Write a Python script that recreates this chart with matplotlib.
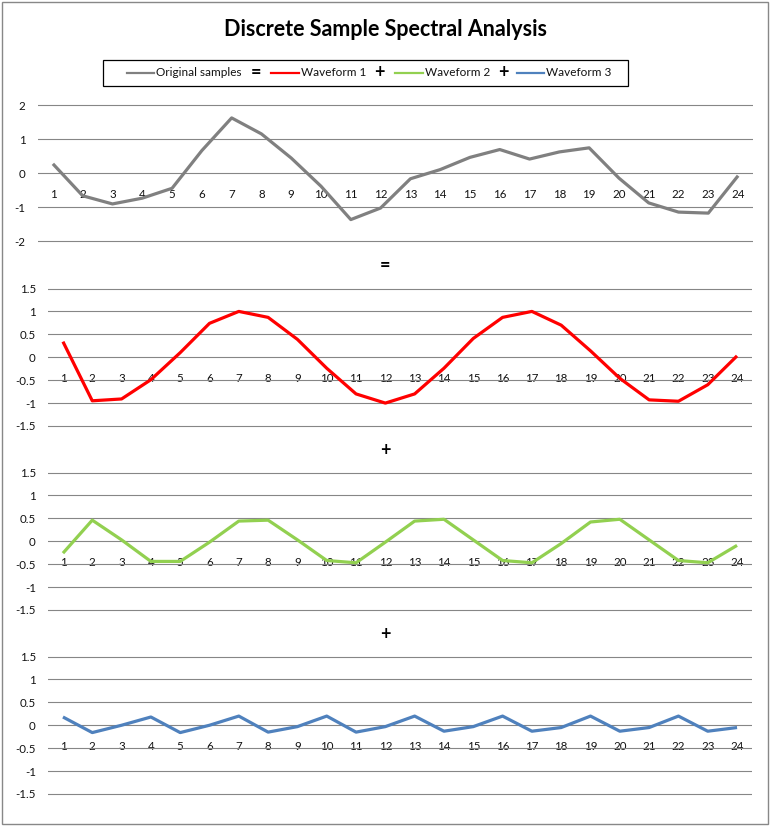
import numpy as np
import matplotlib
matplotlib.use('Agg')
import matplotlib.pyplot as plt
from matplotlib.patches import Rectangle
from matplotlib.lines import Line2D

plt.rcParams['font.family'] = ['Lato', 'DejaVu Sans']

# Sample index 1..24
samples = list(range(1, 25))

original = [0.27, -0.67, -0.91, -0.74, -0.45, 0.66, 1.62, 1.15, 0.44, -0.39, -1.37, -1.03,
            -0.17, 0.10, 0.46, 0.69, 0.41, 0.62, 0.74, -0.15, -0.88, -1.15, -1.18, -0.08]
waveform1 = [0.34, -0.95, -0.91, -0.49, 0.10, 0.74, 1.00, 0.87, 0.39, -0.24, -0.80, -1.00,
             -0.80, -0.24, 0.41, 0.87, 1.00, 0.70, 0.14, -0.46, -0.93, -0.96, -0.60, 0.03]
waveform2 = [-0.26, 0.46, 0.03, -0.44, -0.44, -0.02, 0.44, 0.46, 0.03, -0.42, -0.47, -0.02,
             0.44, 0.48, 0.03, -0.42, -0.47, -0.05, 0.42, 0.48, 0.03, -0.42, -0.47, -0.09]
waveform3 = [0.18, -0.16, 0.00, 0.18, -0.16, 0.00, 0.20, -0.15, -0.03, 0.20, -0.15, -0.03,
             0.20, -0.13, -0.03, 0.20, -0.13, -0.05, 0.20, -0.13, -0.05, 0.20, -0.13, -0.05]

series = [original, waveform1, waveform2, waveform3]
names = ['Original samples', 'Waveform 1', 'Waveform 2', 'Waveform 3']
colors = ['#808080', '#FF0000', '#92D050', '#4F81BD']
ops = ['=', '+', '+']

W, H = 770, 826
fig = plt.figure(figsize=(W / 100, H / 100), dpi=100)

def fx(x):
    return x / W

def fy(y):
    return 1 - y / H

# panel geometry in pixels: (left, right, y of +ymax, y of -ymax, ymax, step)
panels = [
    (38, 753, 105, 241, 2.0, 1.0),
    (48.3, 751.7, 288.5, 426, 1.5, 0.5),
    (48.3, 751.7, 472.5, 610, 1.5, 0.5),
    (48.3, 751.7, 656.5, 794, 1.5, 0.5),
]

for (left, right, ytop, ybot, ymax, step), vals, col in zip(panels, series, colors):
    margin = 0.06 * ymax
    ppu = (ybot - ytop) / (2 * ymax)
    top_px = ytop - margin * ppu
    bot_px = ybot + margin * ppu
    ax = fig.add_axes([fx(left), fy(bot_px), fx(right) - fx(left), fy(top_px) - fy(bot_px)])
    ax.plot(samples, vals, color=col, lw=2.3, solid_joinstyle='round',
            solid_capstyle='butt', zorder=3)
    ax.set_xlim(0.5, 24.5)
    ax.set_ylim(-ymax - margin, ymax + margin)
    yt = np.arange(-ymax, ymax + step / 2, step)
    ax.set_yticks(yt)
    ax.set_yticklabels(['%g' % v for v in yt])
    ax.set_xticks(samples)
    ax.set_xticklabels([str(s) for s in samples])
    ax.grid(axis='y', color='#868686', lw=0.8, zorder=1)
    for sp in ['left', 'right', 'top']:
        ax.spines[sp].set_visible(False)
    ax.spines['bottom'].set_position(('data', 0))
    ax.spines['bottom'].set_visible(False)
    ax.tick_params(axis='x', length=0, pad=11.5, labelsize=8.3, labelcolor='#111111')
    ax.tick_params(axis='y', length=0, pad=9, labelsize=8.3, labelcolor='#111111')
    ax.patch.set_alpha(0)

# title
fig.text(fx(385), fy(30), 'Discrete Sample Spectral Analysis', ha='center', va='center',
         fontsize=15.5, fontweight='bold', color='#000000')

# operators between panels
for y, op in zip([265.5, 450, 634], ops):
    fig.text(fx(385), fy(y), op, ha='center', va='center', fontsize=13,
             fontweight='bold', color='#000000')

# legend box
fig.patches.append(Rectangle((fx(103), fy(86)), fx(628) - fx(103), fy(60) - fy(86),
                             transform=fig.transFigure, fill=False, edgecolor='#000000',
                             lw=0.9))
leg_y = fy(72.5)
line_x = [(127, 154), (271, 299), (395, 423), (517, 544)]
for (x0, x1), name, col in zip(line_x, names, colors):
    fig.lines.append(Line2D([fx(x0), fx(x1)], [leg_y, leg_y], transform=fig.transFigure,
                            color=col, lw=1.6))
    fig.text(fx(x1 + 2), leg_y, name, ha='left', va='center', fontsize=8.5, color='#111111')
for x, op in zip([256.5, 379, 503], ops):
    fig.text(fx(x), leg_y, op, ha='center', va='center', fontsize=13,
             fontweight='bold', color='#000000')

# outer chart border
fig.patches.append(Rectangle((fx(1.5), fy(824)), fx(768) - fx(1.5), fy(1.5) - fy(824),
                             transform=fig.transFigure, fill=False, edgecolor='#888888',
                             lw=1.0))

fig.savefig('out.png', dpi=100)
